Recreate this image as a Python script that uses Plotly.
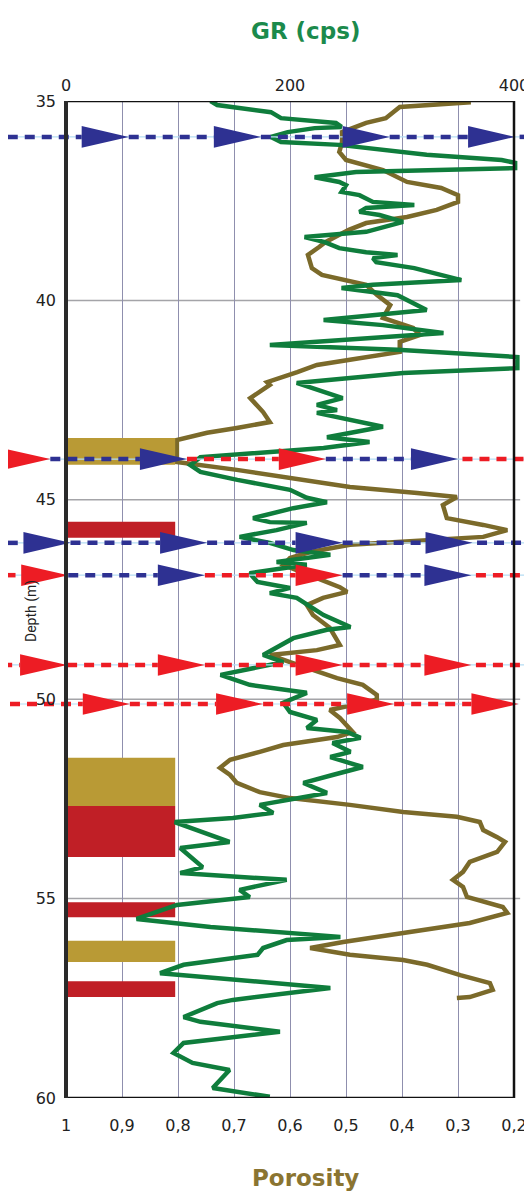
import plotly.graph_objects as go

# gamma ray log (cps) against depth (m)
GR_DEPTH = [35.0, 35.1, 35.28, 35.43, 35.55, 35.65, 35.68, 35.78, 35.9, 36.03,
            36.1, 36.35, 36.48, 36.55, 36.68, 36.73, 36.78, 36.91, 37.03, 37.11,
            37.28, 37.36, 37.53, 37.61, 37.68, 37.78, 37.86, 38.03, 38.28, 38.41,
            38.54, 38.69, 38.79, 38.86, 38.94, 39.04, 39.19, 39.49, 39.61, 39.69,
            39.87, 40.24, 40.49, 40.62, 40.82, 41.12, 41.24, 41.42, 41.7, 41.82,
            42.07, 42.45, 42.62, 42.75, 42.82, 43.17, 43.43, 43.55, 43.7, 43.93,
            44.13, 44.3, 44.5, 44.75, 44.95, 45.06, 45.21, 45.46, 45.56, 45.58,
            45.76, 45.93, 46.08, 46.26, 46.38, 46.56, 46.63, 46.84, 47.06, 47.21,
            47.34, 47.46, 47.89, 48.19, 48.26, 48.47, 48.69, 48.89, 49.07, 49.39,
            49.64, 49.84, 50.09, 50.32, 50.52, 50.72, 50.82, 50.97, 51.1, 51.32,
            51.45, 51.7, 51.9, 52.1, 52.35, 52.53, 52.65, 52.85, 52.98, 53.08,
            53.58, 53.73, 53.98, 54.21, 54.36, 54.53, 54.78, 54.96, 55.16, 55.51,
            55.71, 55.86, 55.96, 56.04, 56.24, 56.41, 56.66, 56.87, 56.99, 57.24,
            57.54, 57.62, 57.97, 58.09, 58.34, 58.62, 58.87, 59.12, 59.3, 59.75,
            59.97]
GR_VALUES = [129, 135, 183, 192, 241, 246, 222, 198, 183, 192,
             244, 322, 389, 401, 401, 335, 259, 222, 244, 250,
             246, 262, 274, 311, 268, 262, 280, 301, 268, 213,
             231, 244, 268, 296, 274, 277, 311, 353, 274, 246,
             296, 322, 230, 283, 337, 182, 296, 403, 403, 301,
             206, 247, 224, 242, 224, 283, 233, 271, 230, 120,
             111, 120, 153, 200, 215, 233, 203, 167, 182, 215,
             188, 155, 182, 203, 236, 188, 215, 164, 171, 200,
             182, 206, 230, 254, 233, 203, 188, 176, 194, 138,
             164, 215, 194, 200, 224, 215, 251, 263, 238, 254,
             236, 265, 238, 212, 233, 200, 173, 185, 149, 97,
             146, 102, 113, 122, 102, 197, 155, 164, 99, 63,
             129, 200, 245, 197, 176, 171, 105, 84, 135, 236,
             149, 135, 105, 120, 191, 105, 96, 113, 146, 131,
             182]

# porosity log against depth (m)
POR_DEPTH = [35.03, 35.15, 35.43, 35.55, 35.78, 36.03, 36.28, 36.48, 36.73, 37.03,
             37.18, 37.36, 37.53, 37.73, 37.91, 38.06, 38.23, 38.41, 38.54, 38.66,
             38.86, 39.19, 39.36, 39.61, 39.86, 40.12, 40.44, 40.69, 40.87, 41.04,
             41.29, 41.49, 41.62, 41.8, 42.05, 42.12, 42.45, 42.8, 43.05, 43.2,
             43.32, 43.5, 44.05, 44.25, 44.45, 44.68, 44.83, 44.93, 45.13, 45.46,
             45.63, 45.76, 45.93, 46.01, 46.13, 46.31, 46.46, 46.63, 46.89, 47.19,
             47.31, 47.46, 47.64, 47.89, 48.21, 48.64, 48.77, 48.89, 49.07, 49.32,
             49.47, 49.64, 49.89, 50.01, 50.27, 50.47, 50.82, 50.95, 51.15, 51.32,
             51.52, 51.72, 51.9, 52.1, 52.33, 52.48, 52.65, 52.83, 52.95, 53.08,
             53.28, 53.46, 53.58, 53.83, 54.08, 54.33, 54.53, 54.71, 54.96, 55.21,
             55.36, 55.61, 55.86, 56.09, 56.24, 56.41, 56.54, 56.66, 56.92, 57.12,
             57.29, 57.47, 57.49]
POR_VALUES = [0.277, 0.404, 0.429, 0.464, 0.507, 0.507, 0.512, 0.500, 0.434, 0.391,
              0.330, 0.300, 0.300, 0.338, 0.391, 0.464, 0.495, 0.518, 0.537, 0.548,
              0.568, 0.561, 0.543, 0.464, 0.445, 0.421, 0.434, 0.380, 0.368, 0.404,
              0.404, 0.493, 0.552, 0.587, 0.641, 0.636, 0.671, 0.648, 0.636, 0.695,
              0.748, 0.802, 0.802, 0.695, 0.600, 0.493, 0.373, 0.302, 0.327, 0.320,
              0.255, 0.212, 0.255, 0.355, 0.493, 0.564, 0.600, 0.612, 0.564, 0.511,
              0.498, 0.541, 0.570, 0.559, 0.529, 0.511, 0.552, 0.636, 0.600, 0.546,
              0.516, 0.470, 0.445, 0.445, 0.529, 0.511, 0.488, 0.516, 0.612, 0.654,
              0.707, 0.725, 0.707, 0.695, 0.654, 0.600, 0.493, 0.398, 0.302, 0.261,
              0.255, 0.230, 0.216, 0.230, 0.279, 0.291, 0.309, 0.291, 0.284, 0.220,
              0.212, 0.279, 0.404, 0.505, 0.564, 0.493, 0.398, 0.355, 0.296, 0.243,
              0.238, 0.279, 0.302]

# lithology blocks (top, base in m), S = sand (gold), H = shale (red)
LITH_TOP = [43.45, 45.55, 51.47, 52.68, 55.09, 56.06, 57.07]
LITH_BASE = [44.12, 45.95, 52.68, 53.96, 55.47, 56.59, 57.47]
LITH_KIND = ["S", "H", "S", "H", "H", "S", "H"]
LITH_END = 0.805  # porosity value where the blocks stop

# correlation markers: depth, arrow tips (GR units), arrow colours, line start/end, tail colour
MARK_DEPTH = [35.9, 43.98, 46.08, 46.89, 49.14, 50.12]
MARK_TIPS = [[56, 174, 289, 401], [-14, 108, 232, 350], [4, 126, 247, 363],
             [2, 124, 247, 362], [1, 124, 247, 362], [57, 176, 293, 404]]
MARK_KIND = [["B", "B", "B", "B"], ["R", "B", "R", "B"], ["B", "B", "B", "B"],
             ["R", "B", "R", "B"], ["R", "R", "R", "R"], ["R", "R", "R", "R"]]
MARK_START = [-52, -57, -52, -54, -57, -50]
MARK_END = [416, 416, 416, 416, 416, 404]
MARK_TAIL = ["B", "R", "B", "R", "R", None]

DEPTH_TICKS = [35, 40, 45, 50, 55, 60]
POR_TICKS = [1, 0.9, 0.8, 0.7, 0.6, 0.5, 0.4, 0.3, 0.2]
POR_LABELS = ["1", "0,9", "0,8", "0,7", "0,6", "0,5", "0,4", "0,3", "0,2"]
GR_TICKS = [0, 200, 400]

GREEN = "#0f7d3c"
BROWN = "#7b6a2a"
LITH_COLORS = {"S": "#b99a35", "H": "#c01f26"}
MARK_COLORS = {"B": "#2e3192", "R": "#ed1c24"}

# the page body keeps an 8px margin, so the figure is 8px smaller than the window
PAD = 8
W, H = 532 - PAD, 1196 - PAD
PL, PR, PT, PB = 66 - PAD, 514 - PAD, 101 - PAD, 1098 - PAD   # frame, figure pixels
ARROW_LEN = 42      # GR units
ARROW_HALF = 0.27   # m

# axis ranges extended so the markers can run past the frame
por_per_px = 0.8 / (PR - PL)
gr_per_px = 400 / (PR - PL)
por_range = [1 + PL * por_per_px, 0.2 - (W - PR) * por_per_px]
gr_range = [-PL * gr_per_px, 400 + (W - PR) * gr_per_px]

fig = go.Figure()

fig.add_trace(go.Scatter(x=POR_VALUES, y=POR_DEPTH, mode="lines",
                         line=dict(color=BROWN, width=4.5), xaxis="x", yaxis="y"))
fig.add_trace(go.Scatter(x=GR_VALUES, y=GR_DEPTH, mode="lines",
                         line=dict(color=GREEN, width=4.5), xaxis="x2", yaxis="y"))

# lithology blocks
for kind in ["S", "H"]:
    xs, ys = [], []
    for top, base, k in zip(LITH_TOP, LITH_BASE, LITH_KIND):
        if k != kind:
            continue
        xs += [1, LITH_END, LITH_END, 1, 1, None]
        ys += [top, top, base, base, top, None]
    fig.add_trace(go.Scatter(x=xs, y=ys, mode="lines", fill="toself",
                             fillcolor=LITH_COLORS[kind], line=dict(width=0),
                             xaxis="x", yaxis="y"))

# marker lines: thin light line, coloured dashes, triangles
thin_x, thin_y = [], []
dash = {"B": ([], []), "R": ([], [])}
tri = {"B": ([], []), "R": ([], [])}
for d, tips, kinds, x0, x1, tail in zip(MARK_DEPTH, MARK_TIPS, MARK_KIND,
                                         MARK_START, MARK_END, MARK_TAIL):
    thin_x += [x0, x1, None]
    thin_y += [d, d, None]
    prev = x0
    for t, k in zip(tips, kinds):
        if t - ARROW_LEN > prev + 2:
            dash[k][0].extend([prev, t - ARROW_LEN, None])
            dash[k][1].extend([d, d, None])
        tri[k][0].extend([t - ARROW_LEN, t, t - ARROW_LEN, t - ARROW_LEN, None])
        tri[k][1].extend([d - ARROW_HALF, d, d + ARROW_HALF, d - ARROW_HALF, None])
        prev = t
    if tail and x1 > prev + 2:
        dash[tail][0].extend([prev + 4, x1, None])
        dash[tail][1].extend([d, d, None])

fig.add_trace(go.Scatter(x=thin_x, y=thin_y, mode="lines",
                         line=dict(color="#b5ddf3", width=1.2), xaxis="x2", yaxis="y"))
for k in ["B", "R"]:
    fig.add_trace(go.Scatter(x=dash[k][0], y=dash[k][1], mode="lines",
                             line=dict(color=MARK_COLORS[k], width=4.5, dash="10px,7px"),
                             xaxis="x2", yaxis="y"))
    fig.add_trace(go.Scatter(x=tri[k][0], y=tri[k][1], mode="lines", fill="toself",
                             fillcolor=MARK_COLORS[k], line=dict(width=0),
                             xaxis="x2", yaxis="y"))

# horizontal depth grid and frame
shapes = []
for dv in DEPTH_TICKS[1:-1]:
    shapes.append(dict(type="line", xref="x", yref="y", x0=1, x1=0.189, y0=dv, y1=dv,
                       line=dict(color="#a4a4a8", width=1.5), layer="below"))
shapes.append(dict(type="rect", xref="x", yref="y", x0=1, x1=0.2, y0=35, y1=60,
                   line=dict(color="#111111", width=2.5), layer="above"))
shapes.append(dict(type="line", xref="x", yref="y", x0=1, x1=1, y0=35, y1=60,
                   line=dict(color="#2a2a2a", width=4), layer="above"))

tick_font = dict(family="DejaVu Sans", size=16, color="#222222")


def paper_x(px):
    return (px - PAD) / W


def paper_y(py):
    return (PB - (py - PAD)) / (PB - PT)


fig.update_layout(
    width=W, height=H,
    margin=dict(l=0, r=0, t=PT, b=H - PB),
    paper_bgcolor="white", plot_bgcolor="white",
    showlegend=False,
    xaxis=dict(range=por_range, tickvals=POR_TICKS, ticktext=POR_LABELS,
               showgrid=True, gridcolor="#8f8fae", gridwidth=1, zeroline=False,
               showline=False, ticks="", ticklabelstandoff=16, tickfont=tick_font),
    xaxis2=dict(range=gr_range, overlaying="x", side="top", anchor="y",
                tickvals=GR_TICKS, showgrid=False, zeroline=False, showline=False,
                ticks="", ticklabelstandoff=6, tickfont=tick_font),
    yaxis=dict(range=[60, 35], tickvals=DEPTH_TICKS, anchor="free", position=PL / W,
               showgrid=False, zeroline=False, showline=False, ticks="",
               ticklabelstandoff=10, tickfont=tick_font),
    shapes=shapes,
    annotations=[
        dict(text="GR (cps)", xref="paper", yref="paper", x=paper_x(305),
             y=paper_y(31), xanchor="center", yanchor="middle", showarrow=False,
             font=dict(family="DejaVu Sans", size=23, color="#1b8a4c", weight="bold")),
        dict(text="Porosity", xref="paper", yref="paper", x=paper_x(305),
             y=paper_y(1178), xanchor="center", yanchor="middle", showarrow=False,
             font=dict(family="DejaVu Sans", size=23, color="#8a7431", weight="bold")),
        dict(text="Depth (m)", xref="paper", yref="paper", x=paper_x(31),
             y=paper_y(611), xanchor="center", yanchor="middle", showarrow=False,
             textangle=-90, font=dict(family="Roboto", size=14, color="#222222")),
    ],
)

fig.write_html("out.html")
